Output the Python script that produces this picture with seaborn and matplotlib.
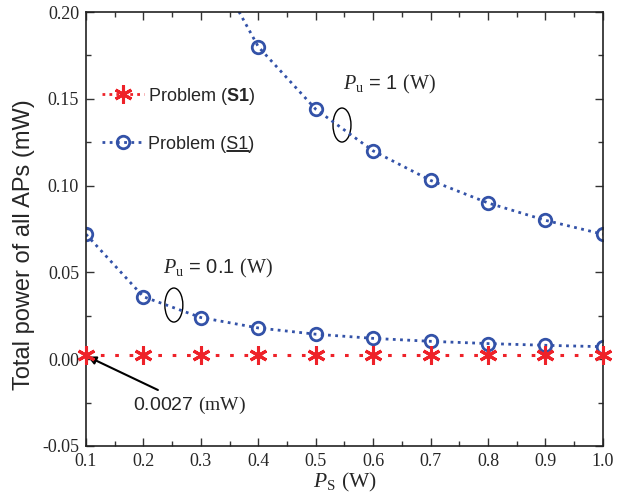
import numpy as np
import pandas as pd
import seaborn as sns
import matplotlib
matplotlib.use("Agg")
import matplotlib.pyplot as plt
from matplotlib.patches import Ellipse
from matplotlib.lines import Line2D
from matplotlib.ticker import MultipleLocator, FormatStrFormatter

# data
ps = [0.1, 0.2, 0.3, 0.4, 0.5, 0.6, 0.7, 0.8, 0.9, 1.0]
s1_bold = [0.0027] * 10
s1_under_pu1 = [0.72, 0.36, 0.24, 0.18, 0.144, 0.12, 0.103, 0.09, 0.08, 0.072]
s1_under_pu01 = [0.072, 0.036, 0.024, 0.018, 0.0144, 0.012, 0.0103, 0.009, 0.008, 0.0072]
xticks = [0.1, 0.2, 0.3, 0.4, 0.5, 0.6, 0.7, 0.8, 0.9, 1.0]
yticks = [-0.05, 0.00, 0.05, 0.10, 0.15, 0.20]

sns.set_theme(style="ticks")
plt.rcParams['font.family'] = ['Liberation Sans', 'DejaVu Sans']
plt.rcParams['mathtext.fontset'] = 'custom'
plt.rcParams['mathtext.rm'] = 'Liberation Serif'
plt.rcParams['mathtext.it'] = 'Liberation Serif:italic'
plt.rcParams['mathtext.bf'] = 'Liberation Sans:bold'

RED = '#EE2229'
BLUE = '#3352A8'

fig = plt.figure(figsize=(6.34, 5.01), dpi=100)
ax = fig.add_axes([0.1356, 0.1098, 0.8154, 0.8662])

df_red = pd.DataFrame({'x': ps, 'y': s1_bold})
df_b1 = pd.DataFrame({'x': ps, 'y': s1_under_pu1})
df_b2 = pd.DataFrame({'x': ps, 'y': s1_under_pu01})

blue_kw = dict(color=BLUE, linestyle=(0, (1, 1.6)), lw=2, marker='o', markersize=9,
               markerfacecolor='none', markeredgecolor=BLUE, markeredgewidth=2)
sns.lineplot(data=df_b1, x='x', y='y', ax=ax, legend=False, **blue_kw)
sns.lineplot(data=df_b2, x='x', y='y', ax=ax, legend=False, **blue_kw)
sns.lineplot(data=df_red, x='x', y='y', ax=ax, color=RED, linestyle=(0, (1.2, 3.5)), lw=2.2,
             marker=(6, 2, 0), markersize=13, markeredgecolor=RED, markeredgewidth=2.2,
             clip_on=False, zorder=5, legend=False)

ax.set_xlim(0.1, 1.0)
ax.set_ylim(-0.05, 0.20)
ax.set_xticks(xticks)
ax.set_yticks(yticks)
ax.xaxis.set_major_formatter(FormatStrFormatter('%.1f'))
ax.yaxis.set_major_formatter(FormatStrFormatter('%.2f'))
ax.xaxis.set_minor_locator(MultipleLocator(0.05))
ax.yaxis.set_minor_locator(MultipleLocator(0.025))
ax.tick_params(which='both', direction='in', top=True, right=True, color='#333333', width=1)
ax.tick_params(which='major', length=6, labelsize=13, pad=5)
ax.tick_params(which='minor', length=3.5)
for lab in ax.get_xticklabels() + ax.get_yticklabels():
    lab.set_fontfamily('Liberation Serif')
for sp in ax.spines.values():
    sp.set_color('#222222')
    sp.set_linewidth(1.2)

ax.set_xlabel('$P_{\\mathrm{S}}$ $\\mathrm{(W)}$', fontsize=15.5, labelpad=1)
ax.set_ylabel('Total power of all APs (mW)', fontsize=17)
ax.yaxis.set_label_coords(-0.098, 0.465)

# legend
h_red = Line2D([], [], color=RED, linestyle=(0, (1, 1.5)), lw=2, marker=(6, 2, 0),
               markersize=13, markeredgecolor=RED, markeredgewidth=2.2)
h_blue = Line2D([], [], **blue_kw)
leg = ax.legend([h_red, h_blue], ['Problem ($\\mathbf{S1}$)', 'Problem (S1)'],
                loc='upper left', bbox_to_anchor=(0.0, 0.868), frameon=False, fontsize=13,
                handlelength=2.3, labelspacing=1.62, handletextpad=0.25)

# underline "S1" in the second legend entry
fig.canvas.draw()
r = fig.canvas.get_renderer()
t2 = leg.get_texts()[1]
bb = t2.get_window_extent(r)
def _w(s):
    tmp = fig.text(0, 0, s, fontsize=13)
    w = tmp.get_window_extent(r).width
    tmp.remove()
    return w
x0 = bb.x0 + _w('Problem (')
x1 = bb.x0 + _w('Problem (S1')
yline = bb.y0 + 1.5
fig.add_artist(Line2D([x0 / fig.dpi / 6.34, x1 / fig.dpi / 6.34],
                      [yline / fig.dpi / 5.01] * 2, color='black', lw=1.2,
                      transform=fig.transFigure))

# annotations
ax.text(0.547, 0.158, '$P_{\\mathrm{u}}$ = 1 $\\mathrm{(W)}$', fontsize=14.5, va='center')
ax.text(0.234, 0.0525, '$P_{\\mathrm{u}}$ = 0.1 $\\mathrm{(W)}$', fontsize=14.5, va='center')
ax.add_patch(Ellipse((0.5457, 0.1349), 0.0313, 0.0196, fill=False, ec='black', lw=1))
ax.add_patch(Ellipse((0.253, 0.0312), 0.0313, 0.0196, fill=False, ec='black', lw=1))
ax.annotate('0.0027 $\\mathrm{(mW)}$', xy=(0.103, 0.0015), xytext=(0.182, -0.0264),
            fontsize=14, va='center', ha='left',
            arrowprops=dict(arrowstyle='-|>', color='black', lw=1.5, mutation_scale=12,
                            shrinkA=2, shrinkB=0))

fig.savefig('out.png', dpi=100)
